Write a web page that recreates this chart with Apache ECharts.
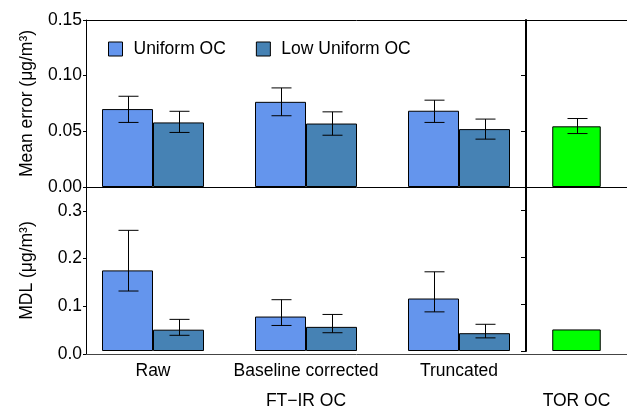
<!DOCTYPE html>
<html>
<head>
<meta charset="utf-8">
<script src="https://cdn.jsdelivr.net/npm/echarts@6/dist/echarts.min.js"></script>
<style>
  html, body { margin: 0; padding: 0; background: #fff; }
  #chart { width: 627px; height: 411px; }
</style>
</head>
<body>
<div id="chart"></div>
<script>
// FT-IR OC processing methods
const categories = ['Raw', 'Baseline corrected', 'Truncated'];
const seriesNames = ['Uniform OC', 'Low Uniform OC'];

// Mean error (µg/m³) with error-bar limits
const meanErrUniform   = [0.070, 0.0765, 0.0685];
const meanErrUniformLo = [0.058, 0.064, 0.058];
const meanErrUniformHi = [0.0815, 0.089, 0.078];
const meanErrLow       = [0.058, 0.057, 0.052];
const meanErrLowLo     = [0.049, 0.0465, 0.043];
const meanErrLowHi     = [0.068, 0.0675, 0.061];
const meanErrTor       = [0.0545];
const meanErrTorLo     = [0.048];
const meanErrTorHi     = [0.0615];

// MDL (µg/m³) with error-bar limits
const mdlUniform   = [0.172, 0.0735, 0.112];
const mdlUniformLo = [0.128, 0.0545, 0.0835];
const mdlUniformHi = [0.2575, 0.1095, 0.169];
const mdlLow       = [0.0455, 0.0515, 0.038];
const mdlLowLo     = [0.0335, 0.039, 0.028];
const mdlLowHi     = [0.0675, 0.078, 0.057];
const mdlTor       = [0.046];

// Axis tick settings
const meanErrTicks = { min: 0, max: 0.15, interval: 0.05 };
const mdlTicks = { min: 0, max: 0.35, interval: 0.1 };

const FONT = "'Liberation Sans', Arial, sans-serif";
const FS = 17.5;
const COLORS = { uniform: '#6495ED', low: '#4682B4', tor: '#00FF00' };
const BAR_FRACTION = 1 / 3;   // bar width as a share of a category band
const TOR_FRACTION = 0.48;
const CAP = 10;               // half width of error-bar caps, px

const chart = echarts.init(document.getElementById('chart'), null, { renderer: 'canvas' });

const hidden = { show: false };
function frameX(position, gridIndex, color) {
  return {
    type: 'value', gridIndex, position, min: 0, max: 1,
    axisLine: { show: true, onZero: false, lineStyle: { color, width: 1 } },
    axisTick: hidden, axisLabel: hidden, splitLine: hidden
  };
}
function valueY(gridIndex, ticks, extra) {
  return Object.assign({
    type: 'value', gridIndex, min: ticks.min, max: ticks.max, interval: ticks.interval,
    splitLine: hidden
  }, extra);
}

function errorBars(name, xAxisIndex, yAxisIndex, lo, hi, side, fraction) {
  return {
    type: 'custom', name, xAxisIndex, yAxisIndex, z: 10, silent: true,
    data: lo.map((l, i) => [i, l, hi[i]]),
    renderItem: (params, api) => {
      const band = api.size([1, 0])[0];
      const dx = side * band * fraction / 2;
      const top = api.coord([api.value(0), api.value(2)]);
      const bot = api.coord([api.value(0), api.value(1)]);
      const x = Math.round(top[0] + dx) + 0.5;
      const style = { stroke: '#000', lineWidth: 1 };
      return {
        type: 'group',
        children: [
          { type: 'line', shape: { x1: x, y1: top[1], x2: x, y2: bot[1] }, style },
          { type: 'line', shape: { x1: x - CAP, y1: top[1], x2: x + CAP, y2: top[1] }, style },
          { type: 'line', shape: { x1: x - CAP, y1: bot[1], x2: x + CAP, y2: bot[1] }, style }
        ]
      };
    }
  };
}

function bar(name, xAxisIndex, yAxisIndex, data, color, width) {
  return {
    type: 'bar', name, xAxisIndex, yAxisIndex, data,
    barWidth: width, barGap: '0%',
    itemStyle: { color, borderColor: '#000', borderWidth: 1 },
    emphasis: { disabled: true }
  };
}

const barPct = (BAR_FRACTION * 100) + '%';
const torPct = (TOR_FRACTION * 100) + '%';

const option = {
  animation: false,
  backgroundColor: '#fff',
  textStyle: { fontFamily: FONT, color: '#000' },
  legend: {
    data: seriesNames,
    left: 103, top: 35,
    icon: 'rect', itemWidth: 14, itemHeight: 14, itemGap: 30,
    itemStyle: { borderColor: '#000', borderWidth: 1 },
    textStyle: { fontFamily: FONT, fontSize: FS, color: '#000', padding: [0, 0, 0, 6] }
  },
  grid: [
    { left: 86, top: 20, width: 560, height: 167 },     // top frame
    { left: 86, top: 187, width: 560, height: 167 },    // bottom frame
    { left: 76.5, top: 20, width: 459, height: 167 },   // top FT-IR
    { left: 526, top: 20, width: 110, height: 167 },    // top TOR
    { left: 76.5, top: 187, width: 459, height: 167 },  // bottom FT-IR
    { left: 526, top: 187, width: 110, height: 167 }    // bottom TOR
  ],
  xAxis: [
    frameX('top', 0, '#000'),
    frameX('bottom', 0, '#000'),
    frameX('bottom', 1, '#444'),
    { type: 'category', gridIndex: 2, data: categories, show: false },
    { type: 'category', gridIndex: 3, data: [''], show: false },
    {
      type: 'category', gridIndex: 4, data: categories,
      axisLine: hidden, axisTick: hidden,
      axisLabel: { fontSize: FS, color: '#000', margin: 11, fontFamily: FONT, interval: 0 },
      name: 'FT\u2212IR OC', nameLocation: 'middle', nameGap: 41,
      nameTextStyle: { fontSize: FS, color: '#000', fontFamily: FONT }
    },
    {
      type: 'category', gridIndex: 5, data: [''],
      axisLine: hidden, axisTick: hidden, axisLabel: hidden,
      name: 'TOR OC', nameLocation: 'middle', nameGap: 41,
      nameTextStyle: { fontSize: FS, color: '#000', fontFamily: FONT }
    }
  ],
  yAxis: [
    valueY(0, meanErrTicks, {
      position: 'left',
      axisLine: { show: true, lineStyle: { color: '#000', width: 1 } },
      axisTick: { show: true, length: 3, lineStyle: { color: '#000' } },
      axisLabel: { fontSize: FS, color: '#000', margin: 4, fontFamily: FONT,
                   formatter: v => v.toFixed(2) },
      name: 'Mean error (\u03bcg/m\u00b3)', nameLocation: 'middle', nameGap: 50,
      nameTextStyle: { fontSize: FS, color: '#000', fontFamily: FONT }
    }),
    valueY(1, mdlTicks, {
      position: 'left',
      axisLine: { show: true, lineStyle: { color: '#000', width: 1 } },
      axisTick: { show: true, length: 3, lineStyle: { color: '#000' } },
      axisLabel: { fontSize: FS, color: '#000', margin: 4, fontFamily: FONT, showMaxLabel: false,
                   formatter: v => v.toFixed(1) },
      name: 'MDL (\u03bcg/m\u00b3)', nameLocation: 'middle', nameGap: 50,
      nameTextStyle: { fontSize: FS, color: '#000', fontFamily: FONT }
    }),
    valueY(2, meanErrTicks, { show: false }),
    valueY(3, meanErrTicks, {
      position: 'left',
      axisLine: { show: true, lineStyle: { color: '#000', width: 2 } },
      axisTick: { show: true, length: 5, lineStyle: { color: '#000' } },
      axisLabel: hidden
    }),
    valueY(4, mdlTicks, { show: false }),
    valueY(5, mdlTicks, {
      position: 'left',
      axisLine: { show: true, lineStyle: { color: '#000', width: 2 } },
      axisTick: { show: true, length: 5, lineStyle: { color: '#000' } },
      axisLabel: hidden
    })
  ],
  series: [
    bar('Uniform OC', 3, 2, meanErrUniform, COLORS.uniform, barPct),
    bar('Low Uniform OC', 3, 2, meanErrLow, COLORS.low, barPct),
    bar('TOR OC', 4, 3, meanErrTor, COLORS.tor, torPct),
    bar('Uniform OC', 5, 4, mdlUniform, COLORS.uniform, barPct),
    bar('Low Uniform OC', 5, 4, mdlLow, COLORS.low, barPct),
    bar('TOR OC', 6, 5, mdlTor, COLORS.tor, torPct),
    errorBars('Uniform OC range', 3, 2, meanErrUniformLo, meanErrUniformHi, -1, BAR_FRACTION),
    errorBars('Low Uniform OC range', 3, 2, meanErrLowLo, meanErrLowHi, 1, BAR_FRACTION),
    errorBars('TOR OC range', 4, 3, meanErrTorLo, meanErrTorHi, 0, TOR_FRACTION),
    errorBars('Uniform OC MDL range', 5, 4, mdlUniformLo, mdlUniformHi, -1, BAR_FRACTION),
    errorBars('Low Uniform OC MDL range', 5, 4, mdlLowLo, mdlLowHi, 1, BAR_FRACTION)
  ]
};

chart.setOption(option);
</script>
</body>
</html>
